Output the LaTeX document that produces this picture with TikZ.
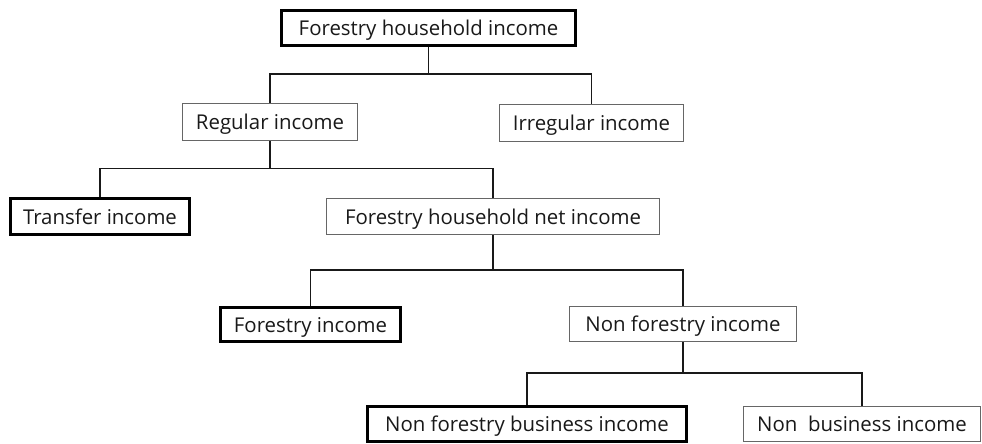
\documentclass[tikz,border=0pt]{standalone}
\usepackage{fontspec}
\setmainfont{Open Sans}
\begin{document}
\begin{tikzpicture}[x=1pt,y=-1pt,
  box/.style={draw=black!60, line width=1.2pt, fill=white, inner sep=0pt,
    text height=17pt, text depth=2pt,
    font=\fontsize{20.4}{23}\selectfont, text=black!90},
  thickbox/.style={box, draw=black, line width=3pt},
  conn/.style={draw=black!90, line width=1.6pt}]
\useasboundingbox (0,0) rectangle (982,444);
\node[thickbox, minimum width=294pt, minimum height=35pt] (A) at (428.5,28) {Forestry household income};
\node[box, minimum width=175pt, minimum height=37pt] (B) at (270,122) {Regular income};
\node[box, minimum width=184pt, minimum height=37pt] (C) at (591.5,123) {Irregular income};
\node[thickbox, minimum width=179pt, minimum height=36pt] (D) at (100,216.5) {Transfer income};
\node[box, minimum width=333pt, minimum height=36pt] (E) at (493,216.5) {Forestry household net income};
\node[thickbox, minimum width=180pt, minimum height=34pt] (F) at (310.5,324.5) {Forestry income};
\node[box, minimum width=227pt, minimum height=35pt] (G) at (683,324) {Non forestry income};
\node[thickbox, minimum width=319pt, minimum height=35pt] (H) at (527,424) {Non forestry business income};
\node[box, minimum width=237pt, minimum height=35pt] (I) at (862,424) {Non\ \ business income};
\coordinate (j1) at (428.5,74);
\coordinate (j2) at (270,168.5);
\coordinate (j3) at (493,270);
\coordinate (j4) at (683,373);
\draw[conn] (A.south) -- (j1);
\draw[conn] (j1) -| (B.north);
\draw[conn] (j1) -| (C.north);
\draw[conn] (B.south) -- (j2);
\draw[conn] (j2) -| (D.north);
\draw[conn] (j2) -| (E.north);
\draw[conn] (E.south) -- (j3);
\draw[conn] (j3) -| (F.north);
\draw[conn] (j3) -| (G.north);
\draw[conn] (G.south) -- (j4);
\draw[conn] (j4) -| (H.north);
\draw[conn] (j4) -| (I.north);
\end{tikzpicture}
\end{document}
